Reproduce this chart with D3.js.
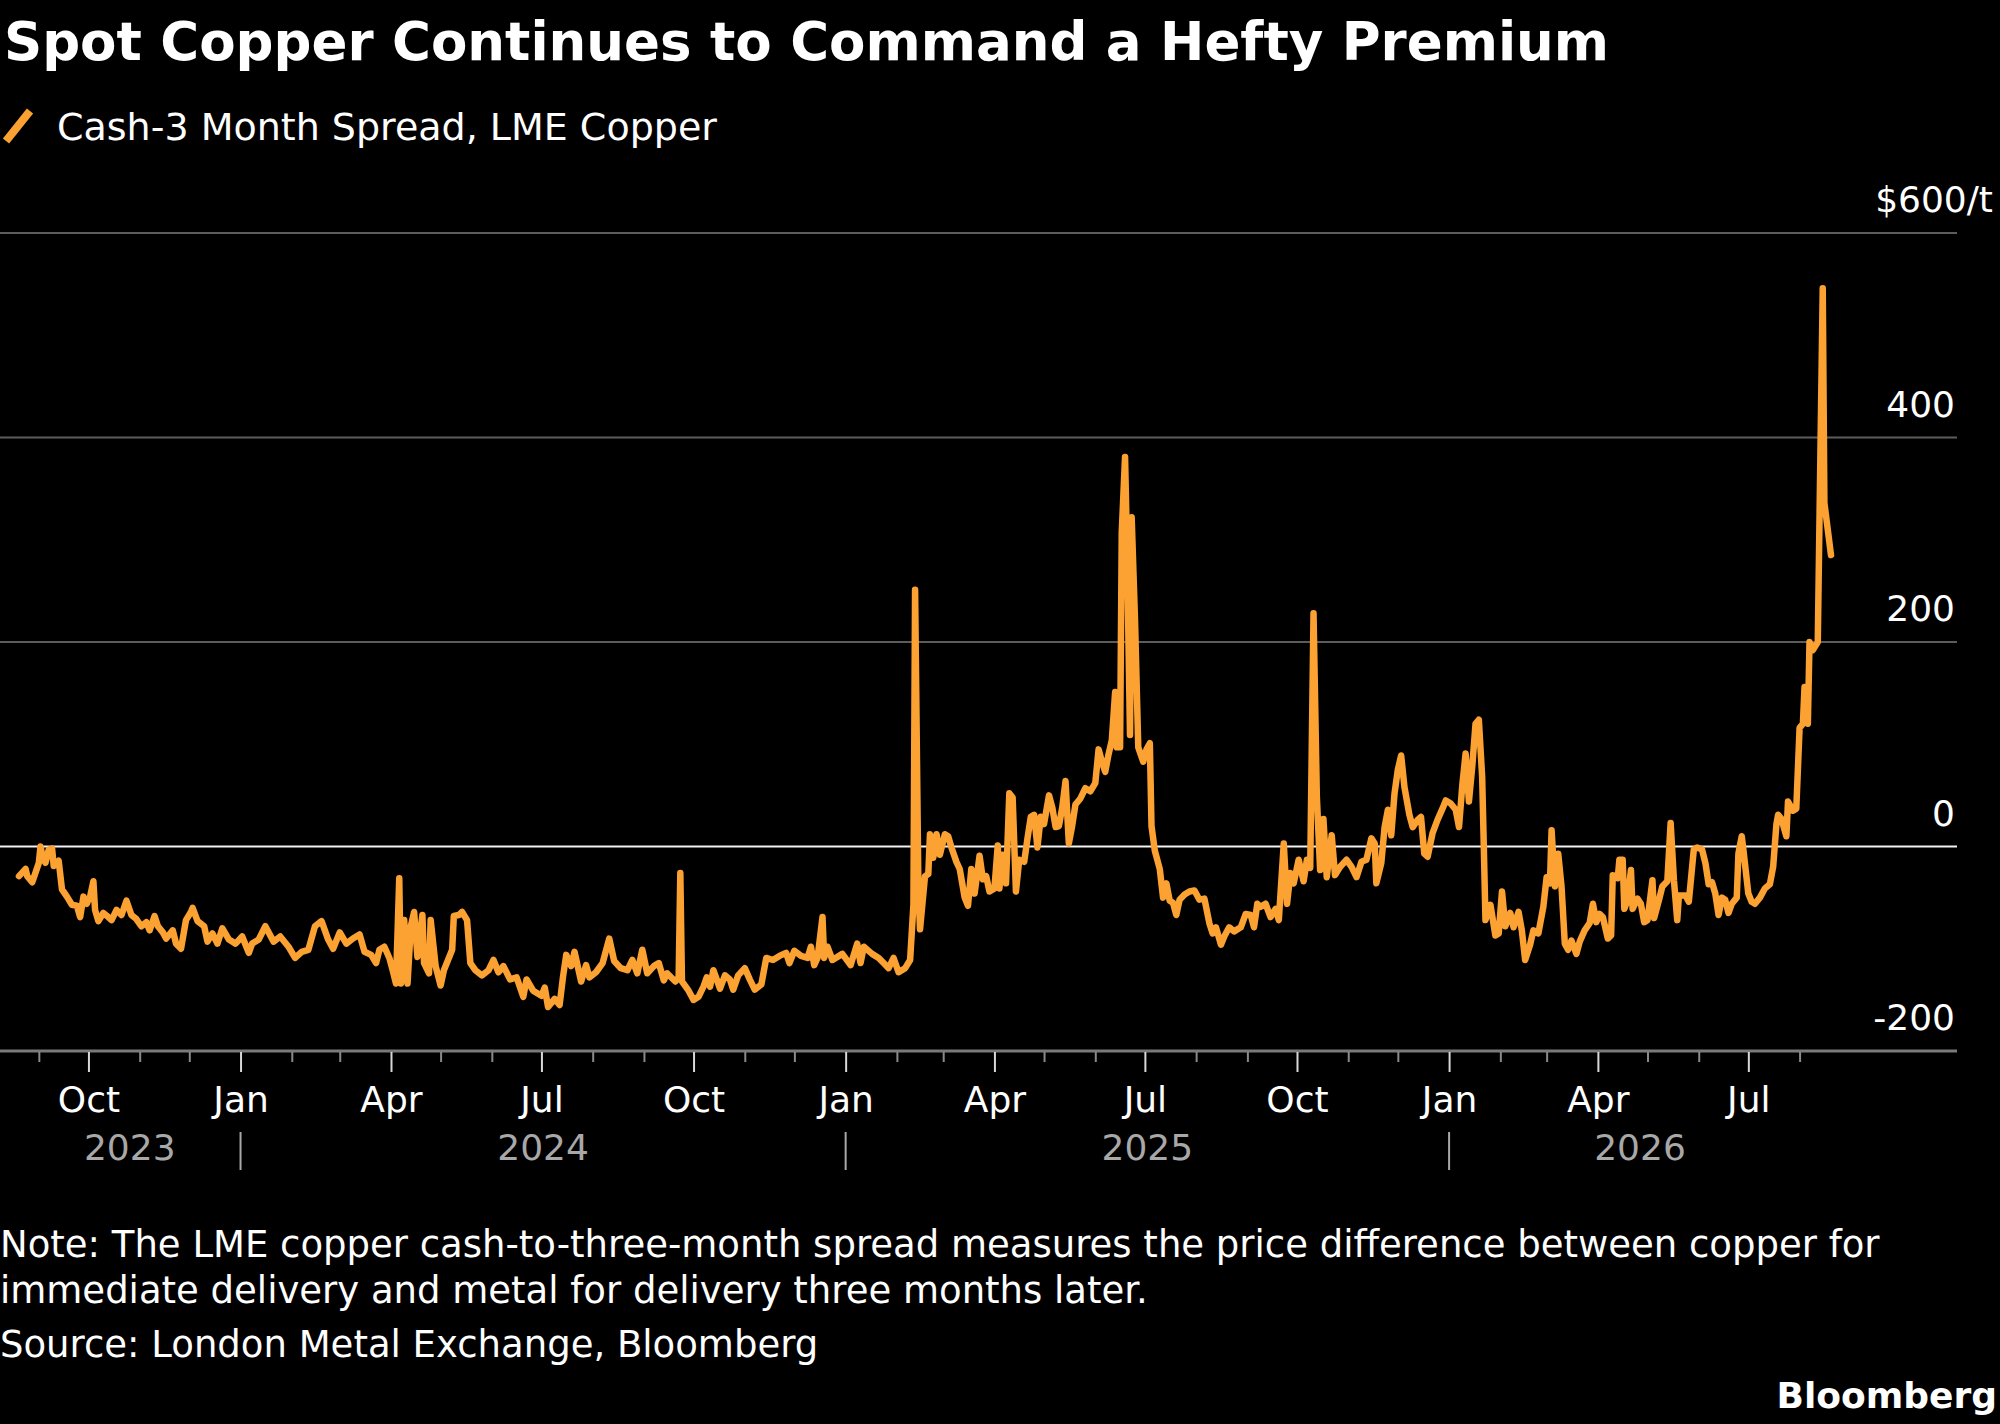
<!DOCTYPE html>
<html>
<head>
<meta charset="utf-8">
<script src="https://cdn.jsdelivr.net/npm/d3@7"></script>
<style>
  html, body { margin: 0; padding: 0; background: #000; }
  svg { display: block; font-family: "DejaVu Sans", sans-serif; }
</style>
</head>
<body>
<svg id="chart" width="2000" height="1424"></svg>
<script>
// LME copper cash-3 month spread, $/t
const s2023 = [
  ["2023-08-20",-29],["2023-08-24",-22],["2023-08-25",-29],["2023-08-28",-35],["2023-09-01",-16],
  ["2023-09-02",0],["2023-09-03",-8],["2023-09-05",-16],["2023-09-07",-3],["2023-09-09",-2],
  ["2023-09-10",-19],["2023-09-13",-14],["2023-09-15",-42],["2023-09-18",-49],["2023-09-21",-57],
  ["2023-09-24",-58],["2023-09-26",-69],["2023-09-28",-49],["2023-09-30",-56],["2023-10-02",-49],
  ["2023-10-04",-34],["2023-10-05",-62],["2023-10-07",-73],["2023-10-10",-65],["2023-10-13",-69],
  ["2023-10-15",-72],["2023-10-18",-62],["2023-10-21",-67],["2023-10-24",-53],["2023-10-27",-67],
  ["2023-10-30",-71],["2023-11-02",-78],["2023-11-05",-74],["2023-11-07",-82],["2023-11-10",-68],
  ["2023-11-12",-78],["2023-11-15",-84],["2023-11-17",-90],["2023-11-21",-82],["2023-11-23",-95],
  ["2023-11-26",-100],["2023-11-29",-72],["2023-12-02",-64],["2023-12-03",-60],["2023-12-06",-73],
  ["2023-12-10",-78],["2023-12-12",-93],["2023-12-15",-85],["2023-12-18",-95],["2023-12-21",-80],
  ["2023-12-25",-91],["2023-12-29",-95]
]
const s2024 = [
  ["2024-01-02",-88],["2024-01-06",-104],["2024-01-08",-95],["2024-01-12",-91],["2024-01-16",-78],
  ["2024-01-21",-93],["2024-01-25",-88],["2024-01-30",-98],["2024-02-03",-109],["2024-02-07",-103],
  ["2024-02-11",-101],["2024-02-15",-78],["2024-02-19",-73],["2024-02-23",-91],["2024-02-26",-100],
  ["2024-03-01",-84],["2024-03-05",-95],["2024-03-09",-90],["2024-03-13",-86],["2024-03-16",-103],
  ["2024-03-20",-106],["2024-03-23",-114],["2024-03-25",-101],["2024-03-28",-98],["2024-03-31",-109],
  ["2024-04-02",-121],["2024-04-04",-134],["2024-04-06",-31],["2024-04-07",-134],["2024-04-09",-72],
  ["2024-04-11",-134],["2024-04-13",-78],["2024-04-15",-64],["2024-04-17",-108],["2024-04-20",-67],
  ["2024-04-21",-114],["2024-04-24",-124],["2024-04-25",-72],["2024-04-28",-117],["2024-05-01",-136],
  ["2024-05-03",-121],["2024-05-08",-101],["2024-05-09",-68],["2024-05-12",-67],["2024-05-14",-64],
  ["2024-05-17",-72],["2024-05-19",-114],["2024-05-22",-121],["2024-05-26",-126],["2024-05-30",-121],
  ["2024-06-02",-111],["2024-06-05",-123],["2024-06-08",-117],["2024-06-12",-130],["2024-06-16",-128],
  ["2024-06-20",-147],["2024-06-22",-130],["2024-06-26",-141],["2024-07-01",-146],["2024-07-03",-138],
  ["2024-07-05",-157],["2024-07-09",-149],["2024-07-12",-155],["2024-07-14",-128],["2024-07-16",-106],
  ["2024-07-19",-117],["2024-07-21",-103],["2024-07-25",-132],["2024-07-28",-116],["2024-07-30",-128],
  ["2024-08-03",-123],["2024-08-07",-114],["2024-08-11",-90],["2024-08-14",-112],["2024-08-18",-119],
  ["2024-08-22",-121],["2024-08-25",-111],["2024-08-28",-124],["2024-08-31",-101],["2024-09-03",-124],
  ["2024-09-07",-117],["2024-09-10",-114],["2024-09-13",-131],["2024-09-15",-124],["2024-09-20",-132],
  ["2024-09-22",-128],["2024-09-23",-26],["2024-09-24",-132],["2024-09-28",-141],["2024-10-01",-150],
  ["2024-10-04",-147],["2024-10-07",-137],["2024-10-09",-128],["2024-10-11",-137],["2024-10-13",-121],
  ["2024-10-15",-130],["2024-10-17",-139],["2024-10-20",-126],["2024-10-23",-130],["2024-10-25",-140],
  ["2024-10-28",-126],["2024-11-01",-119],["2024-11-04",-130],["2024-11-07",-140],["2024-11-11",-135],
  ["2024-11-14",-109],["2024-11-18",-111],["2024-11-22",-107],["2024-11-26",-104],["2024-11-28",-114],
  ["2024-12-01",-102],["2024-12-05",-107],["2024-12-09",-109],["2024-12-11",-98],["2024-12-13",-116],
  ["2024-12-15",-109],["2024-12-18",-69],["2024-12-19",-109],["2024-12-21",-98],["2024-12-24",-111],
  ["2024-12-30",-105]
]
const s2025 = [
  ["2025-01-04",-116],["2025-01-08",-95],["2025-01-10",-114],["2025-01-12",-98],["2025-01-17",-105],
  ["2025-01-21",-109],["2025-01-24",-114],["2025-01-27",-119],["2025-01-30",-109],["2025-02-02",-123],
  ["2025-02-06",-119],["2025-02-09",-111],["2025-02-11",-57],["2025-02-12",251],["2025-02-14",-39],
  ["2025-02-15",-81],["2025-02-18",-29],["2025-02-20",-27],["2025-02-21",12],["2025-02-23",-11],
  ["2025-02-25",12],["2025-02-27",-8],["2025-03-02",12],["2025-03-04",10],["2025-03-06",-1],
  ["2025-03-09",-15],["2025-03-11",-22],["2025-03-14",-50],["2025-03-16",-58],["2025-03-18",-22],
  ["2025-03-20",-46],["2025-03-23",-9],["2025-03-25",-32],["2025-03-27",-29],["2025-03-29",-44],
  ["2025-04-01",-41],["2025-04-03",1],["2025-04-04",-41],["2025-04-06",-8],["2025-04-08",-36],
  ["2025-04-10",52],["2025-04-12",48],["2025-04-14",-44],["2025-04-16",-13],["2025-04-19",-15],
  ["2025-04-21",8],["2025-04-23",29],["2025-04-25",31],["2025-04-27",-1],["2025-04-29",29],
  ["2025-05-01",22],["2025-05-04",50],["2025-05-06",38],["2025-05-08",19],["2025-05-10",20],
  ["2025-05-12",38],["2025-05-14",64],["2025-05-16",3],["2025-05-18",20],["2025-05-20",41],
  ["2025-05-23",47],["2025-05-26",57],["2025-05-29",54],["2025-06-01",62],["2025-06-03",95],
  ["2025-06-05",83],["2025-06-07",73],["2025-06-09",90],["2025-06-11",104],["2025-06-13",151],
  ["2025-06-14",97],["2025-06-16",97],["2025-06-17",307],["2025-06-19",381],["2025-06-20",307],
  ["2025-06-22",109],["2025-06-23",322],["2025-06-25",223],["2025-06-27",97],["2025-06-30",83],
  ["2025-07-02",95],["2025-07-04",101],["2025-07-05",20],["2025-07-07",-4],["2025-07-10",-22],
  ["2025-07-12",-50],["2025-07-14",-36],["2025-07-16",-53],["2025-07-18",-55],["2025-07-20",-67],
  ["2025-07-22",-52],["2025-07-25",-47],["2025-07-28",-44],["2025-07-31",-43],["2025-08-03",-52],
  ["2025-08-06",-51],["2025-08-09",-75],["2025-08-11",-85],["2025-08-13",-79],["2025-08-16",-96],
  ["2025-08-18",-88],["2025-08-21",-79],["2025-08-24",-83],["2025-08-28",-79],["2025-08-31",-66],
  ["2025-09-03",-67],["2025-09-05",-79],["2025-09-07",-56],["2025-09-09",-59],["2025-09-12",-56],
  ["2025-09-15",-69],["2025-09-18",-61],["2025-09-20",-72],["2025-09-23",3],["2025-09-25",-56],
  ["2025-09-27",-26],["2025-09-29",-36],["2025-10-02",-13],["2025-10-05",-34],["2025-10-07",-13],
  ["2025-10-09",-21],["2025-10-11",228],["2025-10-13",49],["2025-10-15",-23],["2025-10-17",27],
  ["2025-10-19",-30],["2025-10-22",11],["2025-10-24",-28],["2025-10-27",-20],["2025-10-31",-13],
  ["2025-11-03",-20],["2025-11-06",-30],["2025-11-09",-15],["2025-11-12",-13],["2025-11-15",8],
  ["2025-11-17",3],["2025-11-18",-36],["2025-11-21",-16],["2025-11-23",19],["2025-11-25",36],
  ["2025-11-27",11],["2025-11-29",52],["2025-12-01",75],["2025-12-03",89],["2025-12-05",58],
  ["2025-12-08",31],["2025-12-10",19],["2025-12-13",26],["2025-12-15",29],["2025-12-17",-7],
  ["2025-12-19",-10],["2025-12-22",13],["2025-12-25",26],["2025-12-28",37],["2025-12-30",45]
]
const s2026 = [
  ["2026-01-02",42],["2026-01-05",36],["2026-01-07",19],["2026-01-09",60],["2026-01-11",91],
  ["2026-01-13",44],["2026-01-15",78],["2026-01-17",120],["2026-01-19",124],["2026-01-21",68],
  ["2026-01-22",0],["2026-01-23",-72],["2026-01-26",-57],["2026-01-29",-87],["2026-01-31",-85],
  ["2026-02-02",-44],["2026-02-04",-78],["2026-02-07",-65],["2026-02-09",-79],["2026-02-12",-64],
  ["2026-02-14",-82],["2026-02-16",-111],["2026-02-19",-96],["2026-02-21",-82],["2026-02-24",-85],
  ["2026-02-27",-59],["2026-03-01",-30],["2026-03-03",-36],["2026-03-04",16],["2026-03-06",-39],
  ["2026-03-08",-7],["2026-03-10",-39],["2026-03-12",-95],["2026-03-14",-101],["2026-03-16",-92],
  ["2026-03-19",-105],["2026-03-21",-93],["2026-03-24",-82],["2026-03-27",-75],["2026-03-29",-56],
  ["2026-03-31",-74],["2026-04-02",-66],["2026-04-04",-69],["2026-04-07",-90],["2026-04-09",-87],
  ["2026-04-10",-28],["2026-04-13",-31],["2026-04-14",-13],["2026-04-16",-13],["2026-04-17",-61],
  ["2026-04-19",-52],["2026-04-21",-23],["2026-04-22",-61],["2026-04-25",-51],["2026-04-27",-56],
  ["2026-04-29",-74],["2026-05-01",-72],["2026-05-04",-33],["2026-05-05",-70],["2026-05-08",-52],
  ["2026-05-10",-39],["2026-05-13",-34],["2026-05-15",23],["2026-05-17",-33],["2026-05-19",-72],
  ["2026-05-20",-48],["2026-05-24",-48],["2026-05-26",-54],["2026-05-29",-3],["2026-05-31",-1],
  ["2026-06-03",-3],["2026-06-05",-16],["2026-06-07",-37],["2026-06-09",-35],["2026-06-11",-46],
  ["2026-06-13",-67],["2026-06-15",-50],["2026-06-17",-52],["2026-06-19",-65],["2026-06-21",-56],
  ["2026-06-24",-50],["2026-06-25",-7],["2026-06-27",10],["2026-06-28",-3],["2026-07-01",-46],
  ["2026-07-03",-54],["2026-07-05",-56],["2026-07-08",-50],["2026-07-11",-41],["2026-07-14",-37],
  ["2026-07-16",-20],["2026-07-18",22],["2026-07-19",31],["2026-07-21",27],["2026-07-24",10],
  ["2026-07-25",44],["2026-07-28",35],["2026-07-30",37],["2026-08-01",116],["2026-08-03",120],
  ["2026-08-04",156],["2026-08-06",120],["2026-08-07",200],["2026-08-09",192],["2026-08-12",200],
  ["2026-08-15",546],["2026-08-16",336],["2026-08-20",285]
]

const yTicks = [-200, 0, 200, 400, 600]
const majorMonths = [0, 3, 6, 9]            // Jan, Apr, Jul, Oct get labels
const monthNames = ['Jan','Feb','Mar','Apr','May','Jun','Jul','Aug','Sep','Oct','Nov','Dec']
const years = [2023, 2024, 2025, 2026]

const title = 'Spot Copper Continues to Command a Hefty Premium'
const seriesName = 'Cash-3 Month Spread, LME Copper'
const noteLines = [
  'Note: The LME copper cash-to-three-month spread measures the price difference between copper for',
  'immediate delivery and metal for delivery three months later.'
]
const source = 'Source: London Metal Exchange, Bloomberg'

const ORANGE = '#fba233'
const parse = d3.timeParse('%Y-%m-%d')
const data = [...s2023, ...s2024, ...s2025, ...s2026].map(([d, v]) => ({ date: parse(d), value: v }))

const svg = d3.select('#chart')
svg.append('rect').attr('width', 2000).attr('height', 1424).attr('fill', '#000')

const plotRight = 1957
const x = d3.scaleTime()
  .domain(d3.extent(data, d => d.date))
  .range([19, 1831])
const y = d3.scaleLinear().domain([-200, 600]).range([1051, 233])

// header
svg.append('text').attr('x', 4).attr('y', 60)
  .attr('fill', '#fff').attr('font-size', 53).attr('font-weight', 'bold')
  .text(title)
svg.append('line')
  .attr('x1', 6).attr('y1', 141).attr('x2', 30).attr('y2', 111)
  .attr('stroke', ORANGE).attr('stroke-width', 8)
svg.append('text').attr('x', 57).attr('y', 140)
  .attr('fill', '#fff').attr('font-size', 38)
  .text(seriesName)

// gridlines + y labels
const grid = svg.append('g').attr('class', 'grid')
grid.selectAll('line').data(yTicks).enter().append('line')
  .attr('x1', 0).attr('x2', plotRight)
  .attr('y1', d => y(d)).attr('y2', d => y(d))
  .attr('stroke', d => d === 0 ? '#f2f2f2' : (d === -200 ? '#7a7a7a' : '#5c5c5c'))
  .attr('stroke-width', d => d === -200 ? 3 : 2)
grid.selectAll('text').data(yTicks).enter().append('text')
  .attr('x', d => d === 600 ? plotRight + 36 : plotRight - 2)
  .attr('y', d => y(d) - 21)
  .attr('text-anchor', 'end')
  .attr('fill', '#fff').attr('font-size', 36)
  .text(d => d === 600 ? `$${d}/t` : d)

// x axis: monthly ticks, quarter labels
const months = d3.timeMonth.range(d3.timeMonth.ceil(x.domain()[0]), x.domain()[1])
const xAxis = d3.axisBottom(x)
  .tickValues(months)
  .tickSize(0)
  .tickPadding(0)
  .tickFormat(d => majorMonths.includes(d.getMonth()) ? monthNames[d.getMonth()] : '')
const gx = svg.append('g').attr('transform', `translate(0,${y(-200)})`).call(xAxis)
gx.select('.domain').remove()
gx.selectAll('.tick line')
  .attr('y1', 1)
  .attr('y2', d => majorMonths.includes(d.getMonth()) ? 21 : 11)
  .attr('stroke', d => majorMonths.includes(d.getMonth()) ? '#d8d8d8' : '#8a8a8a')
  .attr('stroke-width', 2)
gx.selectAll('.tick text')
  .attr('y', 61).attr('dy', null)
  .attr('fill', '#fff').attr('font-size', 36)
  .attr('font-family', '"DejaVu Sans", sans-serif')

// year row
const [d0, d1] = x.domain()
const yearG = svg.append('g')
yearG.selectAll('text').data(years).enter().append('text')
  .attr('x', yr => {
    const a = d3.max([d0, new Date(yr, 0, 1)])
    const b = d3.min([d1, new Date(yr + 1, 0, 1)])
    return (x(a) + x(b)) / 2
  })
  .attr('y', 1160)
  .attr('text-anchor', 'middle')
  .attr('fill', '#a8a8a8').attr('font-size', 36)
  .text(yr => yr)
yearG.selectAll('line').data(years.slice(1)).enter().append('line')
  .attr('x1', yr => x(new Date(yr, 0, 1))).attr('x2', yr => x(new Date(yr, 0, 1)))
  .attr('y1', 1132).attr('y2', 1170)
  .attr('stroke', '#a8a8a8').attr('stroke-width', 2)

// series
const line = d3.line().x(d => x(d.date)).y(d => y(d.value))
svg.append('path').datum(data)
  .attr('d', line)
  .attr('fill', 'none')
  .attr('stroke', ORANGE)
  .attr('stroke-width', 6.5)
  .attr('stroke-linejoin', 'round')
  .attr('stroke-linecap', 'round')

// footer
svg.selectAll('text.note').data(noteLines).enter().append('text')
  .attr('class', 'note')
  .attr('x', 0).attr('y', (d, i) => 1257 + i * 46)
  .attr('fill', '#fff').attr('font-size', 37)
  .text(d => d)
svg.append('text').attr('x', 0).attr('y', 1357)
  .attr('fill', '#fff').attr('font-size', 37)
  .text(source)
svg.append('text').attr('x', 1997).attr('y', 1408)
  .attr('text-anchor', 'end')
  .attr('fill', '#fff').attr('font-size', 36).attr('font-weight', 'bold')
  .text('Bloomberg')
</script>
</body>
</html>
